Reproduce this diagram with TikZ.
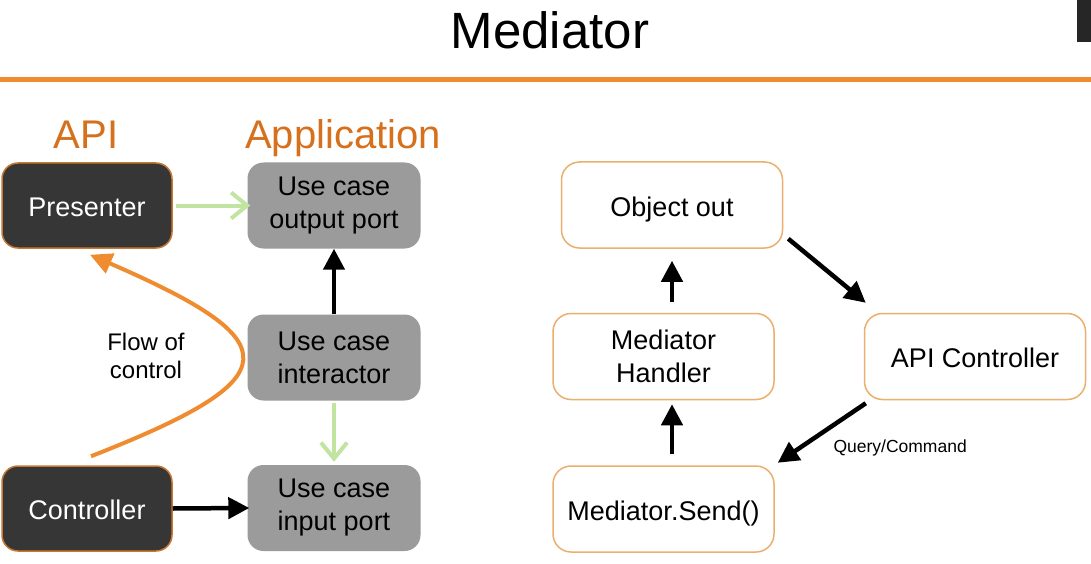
\documentclass[tikz,border=0pt]{standalone}
\usepackage{fontspec}
\setmainfont{Liberation Sans}
\usetikzlibrary{arrows.meta}
\definecolor{lineorange}{RGB}{240,140,48}
\definecolor{textorange}{RGB}{214,112,28}
\definecolor{boxorange}{RGB}{235,175,110}
\definecolor{darkborder}{RGB}{200,120,50}
\definecolor{darkfill}{RGB}{54,54,54}
\definecolor{grayfill}{RGB}{155,155,155}
\definecolor{lightgreen}{RGB}{193,228,160}
\begin{document}
\begin{tikzpicture}[x=1pt,y=-1pt,
  boxtext/.style={font=\fontsize{27}{33}\selectfont, align=center, inner sep=0pt},
  oneline/.style={text height=25pt, text depth=2.7pt},
  darkbox/.style={boxtext, fill=darkfill, draw=darkborder, line width=1.5pt, rounded corners=16pt,
    minimum width=170pt, minimum height=85pt, text=white},
  graybox/.style={boxtext, fill=grayfill, rounded corners=16pt,
    minimum width=173pt, minimum height=86pt, text=black},
  whitebox/.style={boxtext, fill=white, draw=boxorange, line width=1.5pt, rounded corners=18pt,
    minimum width=221pt, minimum height=86pt, text=black},
  blackarrow/.style={line width=4.5pt, black, -{Triangle[length=21pt,width=21pt]}},
  greenarrow/.style={line width=4pt, lightgreen, -{Straight Barb[length=16pt,width=26pt]}},
  layerlabel/.style={font=\fontsize{40}{44}\selectfont, text=textorange, inner sep=0pt, anchor=base}
]
\useasboundingbox (0,0) rectangle (1091,564);
\fill[white] (0,0) rectangle (1091,564);

% title and rule
\node[font=\fontsize{51}{56}\selectfont, anchor=base, inner sep=0pt] (title) at (550,49) {Mediator};
\draw[lineorange, line width=4.5pt] (0,79.5) -- (1091,79.5);
\fill[black!85] (1077,0) rectangle (1091,42);

% left panel labels
\node[layerlabel] (apilabel) at (86,149) {API};
\node[layerlabel] (applabel) at (343,149) {Application};

% left panel boxes
\node[darkbox, oneline] (pres) at (87,205.5) {Presenter};
\node[darkbox, oneline] (ctrl) at (87,508.5) {Controller};
\node[graybox] (outp) at (334,205.5) {Use case\\output port};
\node[graybox] (inter) at (334,357.5) {Use case\\interactor};
\node[graybox] (inp) at (334,508) {Use case\\input port};

\node[font=\fontsize{24}{28}\selectfont, align=center, inner sep=0pt] (flow) at (146,356) {Flow of\\control};

% left panel arrows
\draw[greenarrow, shorten <=3pt, shorten >=-3pt] (pres.east) -- (outp.west);
\draw[blackarrow, shorten >=-2pt] (ctrl.east) -- (inp.west);
\draw[blackarrow] (inter.north) -- (outp.south);
\draw[greenarrow, shorten <=2pt, shorten >=3pt] (inter.south) -- (inp.north);
\draw[lineorange, line width=4pt, -{Triangle[length=22pt,width=21pt]}]
  ([xshift=4pt,yshift=9pt]ctrl.north) .. controls (291,378) and (291,342) .. ([xshift=3pt,yshift=-6pt]pres.south);

% right panel boxes
\node[whitebox, oneline] (objout) at (672,205) {Object out};
\node[whitebox] (handler) at (663.5,356.5) {Mediator\\Handler};
\node[whitebox, oneline] (send) at (663.5,509) {Mediator.Send()};
\node[whitebox, oneline] (apic) at (975,356.5) {API Controller};

% right panel arrows
\draw[blackarrow, shorten <=11pt, shorten >=12pt] (handler.north -| objout.south) -- (objout.south);
\draw[blackarrow, shorten <=11pt, shorten >=4pt] (send.north -| objout.south) -- (handler.south -| objout.south);
\draw[blackarrow] ([xshift=5pt,yshift=10pt]objout.south east) -- ([xshift=2pt,yshift=10pt]apic.north west);
\draw[blackarrow] ([xshift=2pt,yshift=-3pt]apic.south west) -- ([xshift=3pt,yshift=2.5pt]send.north east)
  node[pos=0.5, anchor=west, xshift=9.5pt, yshift=-14.5pt, font=\fontsize{17.5}{20}\selectfont, inner sep=0pt] (query) {Query/Command};
\end{tikzpicture}
\end{document}
